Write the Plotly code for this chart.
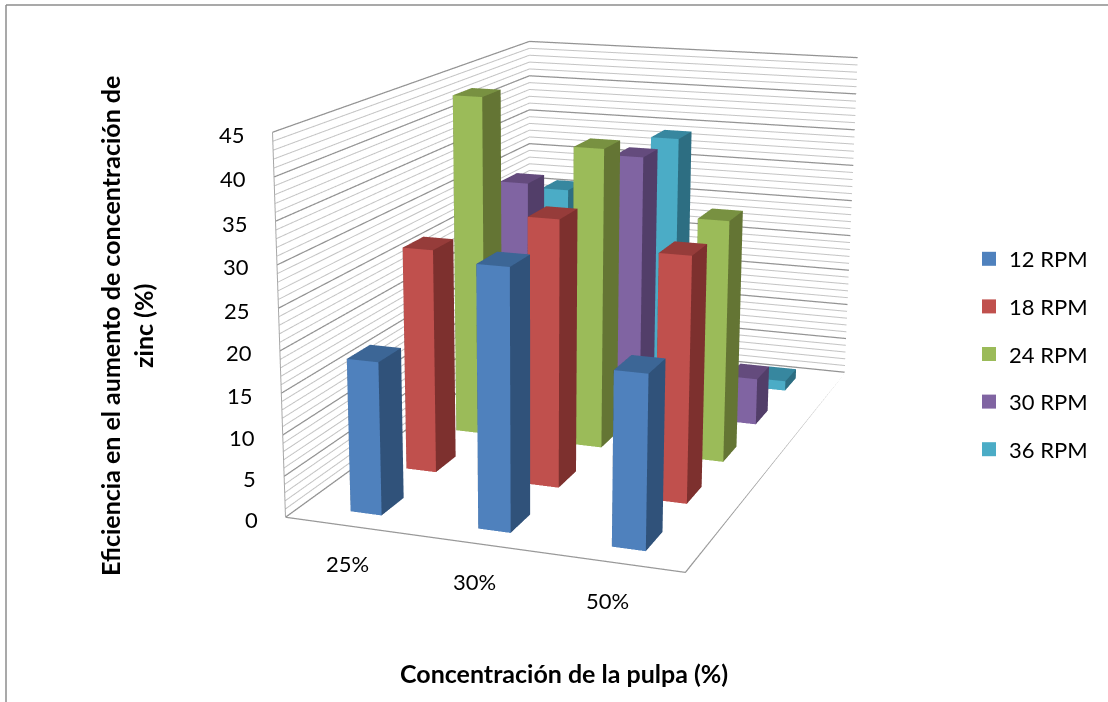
import plotly.graph_objects as go

# Values read per pulp concentration and stirring speed
categories = ["25%", "30%", "50%"]
series_names = ["12 RPM", "18 RPM", "24 RPM", "30 RPM", "36 RPM"]
rpm_12 = [18.5, 31.0, 20.5]
rpm_18 = [28.0, 33.0, 30.0]
rpm_24 = [44.0, 38.5, 30.7]
rpm_30 = [30.0, 34.6, 6.2]
rpm_36 = [26.0, 34.3, 1.35]
z_ticks = [0, 5, 10, 15, 20, 25, 30, 35, 40, 45]
series_values = [rpm_12, rpm_18, rpm_24, rpm_30, rpm_36]

front_colors = ["#4F81BD", "#C0504D", "#9BBB59", "#8064A2", "#4BACC6"]
side_colors = ["#30527A", "#7D302E", "#647534", "#523E69", "#2D6E82"]
top_colors = ["#3C6696", "#963C3A", "#789141", "#644B7D", "#37879F"]

# Page geometry: the scene is taller than the window so its lens is long
FIG_W, FIG_H, OFFSET = 1108, 1716, 533
SCENE_W = 1068


def page_x(px):
    return px / FIG_W


def page_y(py):
    return 1 - (py + OFFSET) / FIG_H


BAR_X = (0.388, 0.635)
BAR_Y = (0.273, 0.665)


def box_mesh(i, j, height, front, side, top):
    x0, x1 = i + BAR_X[0], i + BAR_X[1]
    y0, y1 = j + BAR_Y[0], j + BAR_Y[1]
    xs = [x0, x1, x1, x0, x0, x1, x1, x0]
    ys = [y0, y0, y1, y1, y0, y0, y1, y1]
    zs = [0, 0, 0, 0, height, height, height, height]
    quads = [
        ((0, 1, 5, 4), front),
        ((1, 2, 6, 5), side),
        ((4, 5, 6, 7), top),
        ((3, 2, 6, 7), side),
        ((0, 3, 7, 4), side),
    ]
    tri_i, tri_j, tri_k, colors = [], [], [], []
    for (a, b, c, d), color in quads:
        tri_i += [a, a]
        tri_j += [b, c]
        tri_k += [c, d]
        colors += [color, color]
    return xs, ys, zs, tri_i, tri_j, tri_k, colors


fig = go.Figure()

# Bars, one mesh per series
for j, (name, values) in enumerate(zip(series_names, series_values)):
    mx, my, mz, mi, mj, mk, mc = [], [], [], [], [], [], []
    for i, height in enumerate(values):
        xs, ys, zs, ti, tj, tk, colors = box_mesh(
            i, j, height, front_colors[j], side_colors[j], top_colors[j]
        )
        base = len(mx)
        mx += xs
        my += ys
        mz += zs
        mi += [v + base for v in ti]
        mj += [v + base for v in tj]
        mk += [v + base for v in tk]
        mc += colors
    fig.add_trace(
        go.Mesh3d(
            x=mx, y=my, z=mz, i=mi, j=mj, k=mk, facecolor=mc,
            flatshading=True, showlegend=False, legendgroup=name, name=name,
            hoverinfo="skip",
            lighting=dict(ambient=1, diffuse=0, specular=0, roughness=1, fresnel=0),
        )
    )


def segment_trace(xs, ys, zs, color, width):
    return go.Scatter3d(
        x=xs, y=ys, z=zs, mode="lines", line=dict(color=color, width=width),
        showlegend=False, hoverinfo="skip",
    )


n_cat, n_ser = len(categories), len(series_names)

# Wall gridlines: a line for every unit, heavier at the labelled ticks
for level in range(0, 46):
    major = level % 5 == 0
    fig.add_trace(
        segment_trace(
            [0, 0, n_cat], [0, n_ser, n_ser], [level] * 3,
            "#939393" if major else "#C4C4C4", 2.5 if major else 2,
        )
    )

# Floor outline and the vertical axis with its tick stubs
fig.add_trace(
    segment_trace([0, n_cat, n_cat], [0, 0, n_ser], [0, 0, 0], "#989898", 2.5)
)
fig.add_trace(segment_trace([0, 0], [0, 0], [0, 45], "#A8A8A8", 2))
for t in z_ticks:
    fig.add_trace(segment_trace([-0.07, 0], [0, 0], [t, t], "#989898", 2))

# Legend entries
for name, color in zip(series_names, front_colors):
    fig.add_trace(
        go.Scatter3d(
            x=[None], y=[None], z=[None], mode="markers", name=name,
            legendgroup=name,
            marker=dict(color=color, size=14, symbol="square"),
            hoverinfo="skip",
        )
    )

annotations_3d = []
for t in z_ticks:
    annotations_3d.append(
        dict(x=0, y=0, z=t, text=str(t), showarrow=False, xanchor="right",
             xshift=-26, yshift=-2, font=dict(family="Lato", size=22, color="#000000"))
    )
for i, label in enumerate(categories):
    annotations_3d.append(
        dict(x=i + 0.5, y=0, z=0, text=label, showarrow=False,
             xshift=-1 - 3 * i, yshift=-38,
             font=dict(family="Lato", size=22, color="#000000"))
    )

axis_off = dict(visible=False, showspikes=False)
fig.update_layout(
    width=FIG_W, height=FIG_H, margin=dict(l=0, r=0, t=0, b=0),
    paper_bgcolor="#FFFFFF", font=dict(family="Lato", color="#000000"),
    scene=dict(
        domain=dict(x=[0, SCENE_W / FIG_W], y=[0, 1]),
        xaxis=dict(range=[0, n_cat], **axis_off),
        yaxis=dict(range=[0, n_ser], **axis_off),
        zaxis=dict(range=[0, 45], **axis_off),
        aspectmode="manual",
        aspectratio=dict(x=1.0, y=1.6713, z=0.9361),
        camera=dict(
            eye=dict(x=1.6950, y=-5.0134, z=1.2955),
            center=dict(x=-0.1387, y=-0.0941, z=-0.1447),
            up=dict(x=0, y=0, z=1),
            projection=dict(type="perspective"),
        ),
        annotations=annotations_3d,
    ),
    legend=dict(
        x=page_x(969), y=page_y(238), xanchor="left", yanchor="top",
        font=dict(family="Lato", size=22, color="#000000"),
        tracegroupgap=16, itemclick=False, itemdoubleclick=False,
        bgcolor="rgba(0,0,0,0)",
    ),
    annotations=[
        dict(x=page_x(126), y=page_y(326), xref="paper", yref="paper",
             xanchor="center", yanchor="middle",
             text="Eficiencia en el aumento de concentración de<br>zinc (%)",
             textangle=-90, showarrow=False,
             font=dict(family="Lato", size=25, color="#000000", weight="bold")),
        dict(x=page_x(564), y=page_y(673), xref="paper", yref="paper",
             xanchor="center", yanchor="middle",
             text="Concentración de la pulpa (%)", showarrow=False,
             font=dict(family="Lato", size=25, color="#000000", weight="bold")),
    ],
    shapes=[
        dict(type="line", xref="paper", yref="paper",
             x0=page_x(6), x1=page_x(1108), y0=page_y(5), y1=page_y(5),
             line=dict(color="#8C8C8C", width=1.5)),
        dict(type="line", xref="paper", yref="paper",
             x0=page_x(6), x1=page_x(6), y0=page_y(5), y1=page_y(702),
             line=dict(color="#8C8C8C", width=1.5)),
    ],
)

shift_page = (
    "var g=document.getElementById('{plot_id}');"
    "g.style.position='absolute';g.style.left='0px';g.style.top='-" + str(OFFSET) + "px';"
    "document.documentElement.style.overflow='hidden';document.body.style.overflow='hidden';"
)
fig.write_html("out.html", post_script=shift_page)
